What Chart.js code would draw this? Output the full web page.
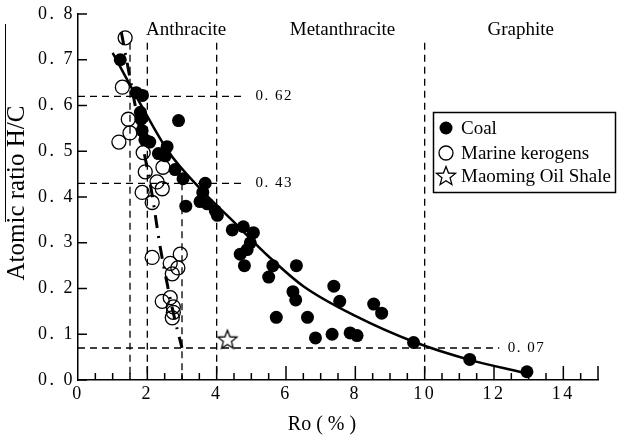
<!DOCTYPE html>
<html>
<head>
<meta charset="utf-8">
<script src="https://cdn.jsdelivr.net/npm/chart.js@4.4.1/dist/chart.umd.min.js"></script>
<style>
  html, body { margin: 0; padding: 0; background: #fff; }
  #wrap { width: 617px; height: 438px; }
</style>
</head>
<body>
<div id="wrap"><canvas id="c" width="617" height="438"></canvas></div>
<script>
// values
const coalRo = [1.22, 1.68, 1.86, 1.80, 1.82, 2.90, 1.85, 1.93, 2.07, 2.57, 2.32, 2.52, 2.80, 3.03,
  3.67, 3.60, 3.11, 3.52, 3.73, 3.96, 4.02, 4.45, 4.77, 5.06, 4.97, 4.88, 4.68, 4.80, 5.62, 6.30,
  5.50, 6.20, 6.28, 5.72, 6.62, 6.85, 7.38, 7.55, 7.33, 7.85, 8.05, 8.53, 8.76, 9.68, 11.3, 12.95];
const coalHC = [0.700, 0.628, 0.622, 0.585, 0.570, 0.567, 0.545, 0.525, 0.520, 0.510, 0.495, 0.490, 0.460, 0.440,
  0.430, 0.410, 0.380, 0.390, 0.385, 0.370, 0.360, 0.328, 0.335, 0.322, 0.300, 0.285, 0.275, 0.250, 0.250, 0.250,
  0.225, 0.193, 0.175, 0.137, 0.137, 0.092, 0.205, 0.172, 0.100, 0.103, 0.097, 0.166, 0.146, 0.082, 0.045, 0.018];

const marineRo = [1.36, 1.28, 1.45, 1.50, 1.18, 1.88, 1.94, 2.28, 2.43, 2.45, 1.85, 2.14,
  2.14, 2.66, 2.95, 2.72, 2.88, 2.66, 2.43, 2.75, 2.75, 2.72];
const marineHC = [0.748, 0.640, 0.570, 0.540, 0.520, 0.497, 0.455, 0.433, 0.418, 0.465, 0.410, 0.388,
  0.268, 0.255, 0.275, 0.232, 0.245, 0.180, 0.172, 0.160, 0.148, 0.136];

const shaleRo = [4.31];
const shaleHC = [0.088];

const coalFitRo = [1.0, 1.9, 2.6, 3.5, 4.5, 5.5, 6.5, 8.0, 9.7, 11.3, 12.8];
const coalFitHC = [0.715, 0.59, 0.50, 0.42, 0.345, 0.27, 0.205, 0.14, 0.083, 0.044, 0.017];

const marineFitRo = [1.25, 1.6, 1.9, 2.15, 2.35, 2.6, 2.8, 3.0];
const marineFitHC = [0.76, 0.62, 0.50, 0.40, 0.30, 0.20, 0.13, 0.07];

const xTicks = [0, 2, 4, 6, 8, 10, 12, 14];
const yTicks = [0, 0.1, 0.2, 0.3, 0.4, 0.5, 0.6, 0.7, 0.8];

const rankNames = ['Anthracite', 'Metanthracite', 'Graphite'];
const rankRo = [3.12, 7.63, 12.77];
const rankHC = 0.764;

const levelHC = [0.62, 0.43, 0.07];
const levelEndRo = [4.75, 4.75, 12.15];
const levelLabelRo = [5.12, 5.12, 12.4];

const boundaryRo = [1.5, 2, 3, 4, 10];
const boundaryTopHC = [0.737, 0.737, 0.43, 0.737, 0.737];

const legendNames = ['Coal', 'Marine kerogens', 'Maoming Oil Shale'];

const SERIF = '"Liberation Serif", "DejaVu Serif", serif';
const fmt = (v, d) => v.toFixed(d).replace('.', '. ');

// five-point star marker
function makeStar() {
  const c = document.createElement('canvas');
  c.width = 24; c.height = 24;
  const g = c.getContext('2d');
  g.beginPath();
  for (let i = 0; i < 10; i++) {
    const r = i % 2 === 0 ? 10 : 4.3;
    const a = -Math.PI / 2 + i * Math.PI / 5;
    const px = 12 + r * Math.cos(a), py = 12.5 + r * Math.sin(a);
    i === 0 ? g.moveTo(px, py) : g.lineTo(px, py);
  }
  g.closePath();
  g.fillStyle = '#fff';
  g.fill();
  g.lineWidth = 1.3;
  g.strokeStyle = '#000';
  g.stroke();
  return c;
}
const starImg = makeStar();

const pts = (xs, ys) => xs.map((x, i) => ({ x: x, y: ys[i] }));

const guides = {
  id: 'guides',
  beforeDraw(chart) {
    // wider tick digits, like the original typeface
    chart.ctx.letterSpacing = '2.5px';
  },
  beforeDatasetsDraw(chart) {
    const { ctx, scales: { x, y } } = chart;
    ctx.letterSpacing = '0px';
    ctx.save();
    ctx.strokeStyle = '#000';
    ctx.lineWidth = 1.3;
    ctx.setLineDash([7, 5]);
    levelHC.forEach((v, i) => {
      ctx.beginPath();
      ctx.moveTo(x.getPixelForValue(0), y.getPixelForValue(v));
      ctx.lineTo(x.getPixelForValue(levelEndRo[i]), y.getPixelForValue(v));
      ctx.stroke();
    });
    boundaryRo.forEach((v, i) => {
      ctx.beginPath();
      ctx.moveTo(x.getPixelForValue(v), y.getPixelForValue(boundaryTopHC[i]));
      ctx.lineTo(x.getPixelForValue(v), y.getPixelForValue(0));
      ctx.stroke();
    });
    ctx.setLineDash([]);
    ctx.fillStyle = '#000';
    ctx.font = '15px ' + SERIF;
    ctx.letterSpacing = '1.5px';
    ctx.textBaseline = 'middle';
    ctx.textAlign = 'left';
    levelHC.forEach((v, i) => {
      ctx.fillText(fmt(v, 2), x.getPixelForValue(levelLabelRo[i]), y.getPixelForValue(v));
    });
    ctx.letterSpacing = '0px';
    ctx.font = '19px ' + SERIF;
    ctx.textAlign = 'center';
    rankNames.forEach((n, i) => {
      ctx.fillText(n, x.getPixelForValue(rankRo[i]), y.getPixelForValue(rankHC));
    });
    ctx.restore();
  },
  afterDraw(chart) {
    const { ctx, scales: { x, y }, chartArea: a } = chart;
    ctx.save();
    ctx.letterSpacing = '0px';
    ctx.strokeStyle = '#000';
    ctx.lineWidth = 1.5;
    // inward ticks
    for (let v = 0.5; v <= 15; v += 0.5) {
      const px = x.getPixelForValue(v);
      const len = (v % 2 === 0 || v === 15) ? 14 : 7;
      ctx.beginPath();
      ctx.moveTo(px, a.bottom);
      ctx.lineTo(px, a.bottom - len);
      ctx.stroke();
    }
    yTicks.forEach(v => {
      const py = y.getPixelForValue(v);
      ctx.beginPath();
      ctx.moveTo(a.left, py);
      ctx.lineTo(a.left + 9, py);
      ctx.stroke();
    });
    // axis titles
    ctx.fillStyle = '#000';
    ctx.font = '20px ' + SERIF;
    ctx.textAlign = 'center';
    ctx.textBaseline = 'middle';
    ctx.fillText('Ro ( % )', 322, 425);
    ctx.save();
    ctx.translate(17, 193);
    ctx.rotate(-Math.PI / 2);
    ctx.font = '25px ' + SERIF;
    ctx.fillText('Atomic ratio H/C', 0, 0);
    ctx.restore();
    ctx.lineWidth = 1;
    ctx.beginPath();
    ctx.moveTo(5.5, 24);
    ctx.lineTo(5.5, 222);
    ctx.stroke();
    // legend box
    ctx.lineWidth = 1.5;
    ctx.strokeRect(433.5, 112.5, 182, 80);
    const rows = [128, 153, 176];
    const sets = [0, 1, 2].map(i => chart.data.datasets[i]);
    sets.forEach((ds, i) => {
      ctx.fillStyle = ds.backgroundColor;
      ctx.strokeStyle = ds.borderColor;
      ctx.lineWidth = ds.borderWidth;
      Chart.helpers.drawPoint(ctx, { pointStyle: ds.pointStyle, radius: ds.pointRadius, rotation: 0, borderWidth: ds.borderWidth }, 446, rows[i]);
      ctx.fillStyle = '#000';
      ctx.font = '19px ' + SERIF;
      ctx.textAlign = 'left';
      ctx.fillText(legendNames[i], 461, rows[i] + 1);
    });
    ctx.restore();
  }
};

new Chart(document.getElementById('c'), {
  type: 'scatter',
  data: {
    datasets: [
      { label: legendNames[0], data: pts(coalRo, coalHC), pointStyle: 'circle', pointRadius: 6.5,
        backgroundColor: '#000', borderColor: '#000', borderWidth: 0 },
      { label: legendNames[1], data: pts(marineRo, marineHC), pointStyle: 'circle', pointRadius: 7,
        backgroundColor: 'rgba(0,0,0,0)', borderColor: '#000', borderWidth: 1.3 },
      { label: legendNames[2], data: pts(shaleRo, shaleHC), pointStyle: starImg, pointRadius: 10,
        backgroundColor: '#fff', borderColor: '#000', borderWidth: 1.3 },
      { type: 'line', data: pts(coalFitRo, coalFitHC), showLine: true, pointRadius: 0,
        borderColor: '#000', borderWidth: 2.5, cubicInterpolationMode: 'monotone', fill: false },
      { type: 'line', data: pts(marineFitRo, marineFitHC), showLine: true, pointRadius: 0,
        borderColor: '#000', borderWidth: 3, borderDash: [13, 8, 2, 8], cubicInterpolationMode: 'monotone', fill: false }
    ]
  },
  options: {
    responsive: false,
    animation: false,
    layout: { padding: { top: 14, right: 19, left: 0, bottom: 0 } },
    plugins: { legend: { display: false }, tooltip: { enabled: false } },
    scales: {
      x: {
        type: 'linear', min: 0, max: 15,
        afterBuildTicks: s => { s.ticks = xTicks.map(v => ({ value: v })); },
        afterFit: s => { s.height = 58; },
        ticks: { color: '#000', padding: 3, font: { family: SERIF, size: 18 } },
        grid: { display: false, drawTicks: false },
        border: { display: true, color: '#000', width: 1.5 }
      },
      y: {
        type: 'linear', min: 0, max: 0.8,
        afterBuildTicks: s => { s.ticks = yTicks.map(v => ({ value: v })); },
        afterFit: s => { s.width = 78; },
        ticks: { color: '#000', padding: 3, font: { family: SERIF, size: 18 }, callback: v => fmt(v, 1) },
        grid: { display: false, drawTicks: false },
        border: { display: true, color: '#000', width: 1.5 }
      }
    }
  },
  plugins: [guides]
});
</script>
</body>
</html>
